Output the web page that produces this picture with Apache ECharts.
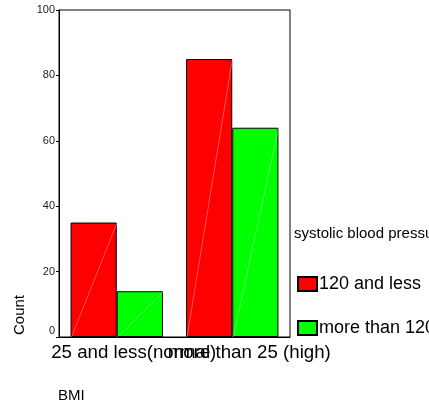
<!DOCTYPE html>
<html>
<head>
<meta charset="utf-8">
<script src="https://cdn.jsdelivr.net/npm/echarts@6/dist/echarts.min.js"></script>
<style>
html,body{margin:0;padding:0;background:#fff;}
#chart{width:429px;height:406px;}
</style>
</head>
<body>
<div id="chart"></div>
<script>
const categories = ['25 and less(normal)', 'more than 25 (high)'];
const seriesNames = ['120 and less', 'more than 120'];
const lowBP = [35, 85];
const highBP = [14, 64];
const yTicks = { min: 0, max: 100, interval: 20 };
const legendTitle = 'systolic blood pressure';
const xName = 'BMI';
const yName = 'Count';

const gapRatio = 0.2;
const diagData = [];
[lowBP, highBP].forEach(function (arr, s) {
  arr.forEach(function (v, i) { diagData.push([i, v, s]); });
});

const chart = echarts.init(document.getElementById('chart'));
const font = 'Liberation Sans, Arial, sans-serif';
chart.setOption({
  animation: false,
  textStyle: { fontFamily: font },
  grid: {
    left: 59, top: 10, right: 139, bottom: 69,
    show: true, borderColor: '#000', borderWidth: 1, backgroundColor: 'transparent'
  },
  xAxis: {
    type: 'category',
    data: categories,
    axisLine: { lineStyle: { color: '#000', width: 1 } },
    axisTick: { alignWithLabel: true, length: 3, lineStyle: { color: '#000' } },
    axisLabel: {
      interval: 0, color: '#000', fontSize: 18.7, fontFamily: font,
      margin: 6, padding: [0, 0, 0, 34]
    }
  },
  yAxis: {
    type: 'value',
    min: yTicks.min, max: yTicks.max, interval: yTicks.interval,
    splitLine: { show: false },
    axisLine: { show: true, lineStyle: { color: '#000', width: 1 } },
    axisTick: { show: true, length: 3, lineStyle: { color: '#000' } },
    axisLabel: {
      color: '#222', fontSize: 11, fontFamily: font, margin: 4,
      formatter: function (v) { return v === 0 ? '{z|0}' : String(v); },
      rich: { z: { fontSize: 11, color: '#222', padding: [0, 0, 12, 0] } }
    }
  },
  legend: {
    orient: 'vertical',
    left: 297, top: 275,
    padding: 0,
    itemWidth: 19, itemHeight: 14,
    itemGap: 26,
    icon: 'rect',
    textStyle: { fontSize: 18, color: '#000', fontFamily: font, padding: [0, 0, 0, -3] },
    data: seriesNames
  },
  graphic: [
    { type: 'text', left: 294, top: 226, style: { text: legendTitle, fontSize: 15, fill: '#000', fontFamily: font } },
    { type: 'text', left: 58, top: 388, style: { text: xName, fontSize: 15, fill: '#000', fontFamily: font } },
    { type: 'text', x: 20, y: 315, rotation: Math.PI / 2, style: { text: yName, fontSize: 15, fill: '#000', fontFamily: font, align: 'center', verticalAlign: 'middle' } }
  ],
  series: [
    {
      name: seriesNames[0], type: 'bar', data: lowBP,
      barGap: '0%', barCategoryGap: (gapRatio * 100) + '%',
      itemStyle: { color: '#ff0000', borderColor: '#000', borderWidth: 1 }
    },
    {
      name: seriesNames[1], type: 'bar', data: highBP,
      barGap: '0%', barCategoryGap: (gapRatio * 100) + '%',
      itemStyle: { color: '#00ff00', borderColor: '#000', borderWidth: 1 }
    },
    {
      type: 'custom', silent: true, z: 5,
      data: diagData,
      renderItem: function (params, api) {
        const top = api.coord([api.value(0), api.value(1)]);
        const base = api.coord([api.value(0), 0]);
        const band = api.size([1, 0])[0];
        const barW = band * (1 - gapRatio) / 2;
        const s = api.value(2);
        const x0 = top[0] - barW + s * barW;
        return {
          type: 'line',
          shape: { x1: x0 + 1, y1: base[1], x2: x0 + barW, y2: top[1] + 1 },
          style: { stroke: 'rgba(255,255,255,0.55)', lineWidth: 0.6 }
        };
      }
    }
  ]
});
</script>
</body>
</html>
